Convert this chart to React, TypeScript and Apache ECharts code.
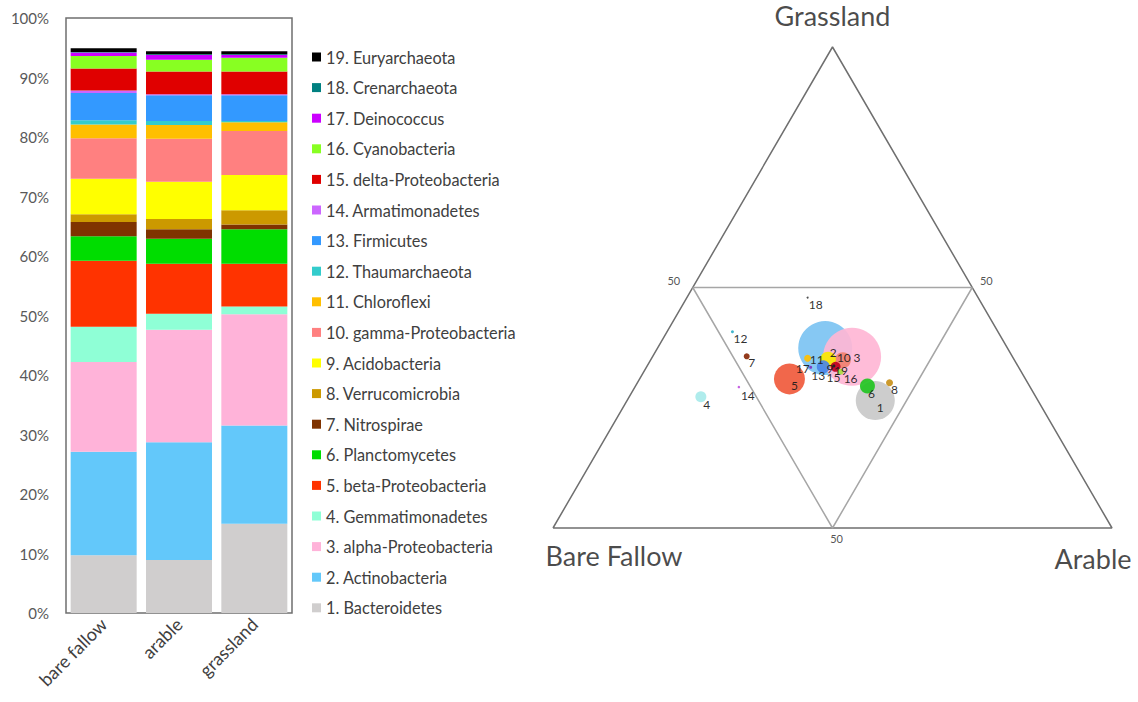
import React, { useEffect, useRef } from "react";
import * as echarts from "echarts";

// ---------- data ----------
const sites = ["bare fallow", "arable", "grassland"];

const phyla = [
  "1. Bacteroidetes",
  "2. Actinobacteria",
  "3. alpha-Proteobacteria",
  "4. Gemmatimonadetes",
  "5. beta-Proteobacteria",
  "6. Planctomycetes",
  "7. Nitrospirae",
  "8. Verrucomicrobia",
  "9. Acidobacteria",
  "10. gamma-Proteobacteria",
  "11. Chloroflexi",
  "12. Thaumarchaeota",
  "13. Firmicutes",
  "14. Armatimonadetes",
  "15. delta-Proteobacteria",
  "16. Cyanobacteria",
  "17. Deinococcus",
  "18. Crenarchaeota",
  "19. Euryarchaeota",
];

// relative abundance (%) per site
const bareFallow = [9.7, 17.4, 15.1, 5.9, 11.1, 4.1, 2.4, 1.3, 6.0, 6.8, 2.3, 0.7, 4.6, 0.4, 3.7, 2.1, 0.6, 0.1, 0.6];
const arable = [8.9, 19.8, 18.9, 2.7, 8.4, 4.2, 1.6, 1.7, 6.3, 7.2, 2.3, 0.7, 4.3, 0.2, 3.8, 2.0, 0.8, 0.1, 0.5];
const grassland = [15.0, 16.5, 18.7, 1.3, 7.2, 5.8, 0.8, 2.4, 5.9, 7.4, 1.5, 0.2, 4.3, 0.2, 3.8, 2.3, 0.5, 0.1, 0.5];

// ternary composition (%) of each phylum: bare fallow / arable / grassland
const ternBare = [29.1, 32.6, 28.7, 59.9, 42.2, 29.0, 47.5, 24.7, 33.3, 30.7, 36.8, 47.5, 34.9, 52.1, 32.7, 32.3, 37.2, 30.5, 32.9];
const ternArable = [44.4, 30.0, 35.7, 12.8, 26.8, 41.5, 16.8, 45.1, 31.7, 34.4, 27.9, 11.7, 31.6, 18.6, 33.8, 35.2, 29.4, 21.6, 33.4];
const ternGrass = [26.5, 37.4, 35.6, 27.3, 31.0, 29.5, 35.7, 30.2, 35.0, 34.9, 35.3, 40.8, 33.5, 29.3, 33.5, 32.5, 33.4, 47.9, 33.7];
// bubble diameters
const bubbleSize = [39, 54, 58, 11, 31, 15, 6, 7, 16, 16, 7, 3, 13, 2.5, 10, 6, 3, 2, 3];

const ternaryTicks = ["50", "50", "50"];
const vertexNames = ["Grassland", "Bare Fallow", "Arable"];

// ---------- styles ----------
const barColors = [
  "#d0cece", "#63c8fa", "#ffb3d9", "#8fffd6", "#ff3300", "#00dd00", "#7f3300", "#cc9900", "#ffff00", "#ff8080",
  "#ffbf00", "#33cccc", "#3399ff", "#cc66ff", "#e00000", "#88ff22", "#cc00ff", "#008080", "#000000",
];
const bubbleColors = [
  "#c9c9c9", "#7cc3f2", "#ffb6d5", "#a8eaea", "#f05a3c", "#22c422", "#8b2a0a", "#c8901a", "#f8e800", "#f08070",
  "#ffc000", "#33b0c8", "#4a86e8", "#c050e0", "#c00020", "#a8e040", "#8030c0", "#404040", "#202020",
];
const labelOffsets: number[][] = [
  [5, 7], [8, 4], [5, 1], [6, 8], [5, 7], [4, 7], [5, 6], [5, 7], [2, 9], [1, -3],
  [9, 1], [8, 7], [-5, 9], [9, 8], [-2, 11], [10, 7], [-8, 1], [8, 7], [7, 5],
];
const drawOrder = [2, 3, 1, 5, 10, 9, 13, 6, 15, 11, 4, 8, 7, 16, 19, 17, 12, 14, 18];

const FONT = "Lato";

function ternaryToXY(bare: number, ar: number, gr: number): number[] {
  const s = bare + ar + gr;
  const a = ar / s;
  const g = gr / s;
  return [a + g / 2, g];
}

export default function App() {
  const ref = useRef<HTMLDivElement>(null);

  useEffect(() => {
    if (!ref.current) return;
    const chart = echarts.init(ref.current, undefined, { renderer: "svg" });

    const siteValues = [bareFallow, arable, grassland];
    const barSeries = phyla.map((name, i) => ({
      name,
      type: "bar",
      stack: "total",
      xAxisIndex: 0,
      yAxisIndex: 0,
      barWidth: 66,
      itemStyle: { color: barColors[i] },
      data: siteValues.map((v) => v[i]),
    }));

    const bubbleData = drawOrder.map((id) => {
      const i = id - 1;
      const [x, y] = ternaryToXY(ternBare[i], ternArable[i], ternGrass[i]);
      return {
        value: [x, y],
        name: String(id),
        symbolSize: bubbleSize[i],
        itemStyle: { color: bubbleColors[i], opacity: 0.92 },
        label: { offset: labelOffsets[i] },
      };
    });

    const outer = [
      ternaryToXY(100, 0, 0),
      ternaryToXY(0, 100, 0),
      ternaryToXY(0, 0, 100),
      ternaryToXY(100, 0, 0),
    ];
    const inner = [
      ternaryToXY(50, 0, 50),
      ternaryToXY(0, 50, 50),
      ternaryToXY(50, 50, 0),
      ternaryToXY(50, 0, 50),
    ];

    const tickPts = [
      { value: ternaryToXY(50, 0, 50), name: ternaryTicks[0], label: { offset: [-19, -7] } },
      { value: ternaryToXY(0, 50, 50), name: ternaryTicks[1], label: { offset: [14, -7] } },
      { value: ternaryToXY(50, 50, 0), name: ternaryTicks[2], label: { offset: [4, 10] } },
    ];
    const vertexPts = [
      { value: ternaryToXY(0, 0, 100), name: vertexNames[0], label: { offset: [0, -32] } },
      { value: ternaryToXY(100, 0, 0), name: vertexNames[1], label: { offset: [61, 27] } },
      { value: ternaryToXY(0, 100, 0), name: vertexNames[2], label: { offset: [-19, 30] } },
    ];

    chart.setOption({
      animation: false,
      backgroundColor: "#ffffff",
      textStyle: { fontFamily: FONT },
      grid: [
        { left: 66, top: 18, width: 226, height: 595, show: true, borderColor: "#6f6f6f", borderWidth: 1.5 },
        { left: 553, top: 47, width: 559, height: 481 },
      ],
      legend: {
        orient: "vertical",
        left: 307,
        top: 44,
        itemWidth: 9,
        itemHeight: 9,
        itemGap: 14.6,
        icon: "rect",
        data: phyla.slice().reverse(),
        textStyle: { fontFamily: FONT, fontSize: 16.3, color: "#404040", lineHeight: 16 },
      },
      xAxis: [
        {
          type: "category",
          gridIndex: 0,
          data: sites,
          axisTick: { show: false },
          axisLine: { show: false },
          axisLabel: { rotate: 45, fontSize: 18, color: "#404040", margin: 8, fontFamily: FONT },
        },
        { type: "value", gridIndex: 1, min: 0, max: 1, show: false },
      ],
      yAxis: [
        {
          type: "value",
          gridIndex: 0,
          min: 0,
          max: 100,
          interval: 10,
          axisLine: { show: false },
          axisTick: { show: false },
          splitLine: { show: false },
          axisLabel: { formatter: "{value}%", fontSize: 15, color: "#595959", margin: 17, fontFamily: FONT },
        },
        { type: "value", gridIndex: 1, min: 0, max: 1, show: false },
      ],
      series: [
        ...barSeries,
        {
          type: "line",
          xAxisIndex: 1,
          yAxisIndex: 1,
          data: outer,
          showSymbol: false,
          symbol: "none",
          clip: false,
          silent: true,
          lineStyle: { color: "#6f6f6f", width: 1.5 },
          z: 1,
        },
        {
          type: "line",
          xAxisIndex: 1,
          yAxisIndex: 1,
          data: inner,
          showSymbol: false,
          symbol: "none",
          clip: false,
          silent: true,
          lineStyle: { color: "#a6a6a6", width: 1.5 },
          z: 1,
        },
        {
          type: "scatter",
          xAxisIndex: 1,
          yAxisIndex: 1,
          data: bubbleData,
          z: 3,
          label: {
            show: true,
            position: "inside",
            formatter: "{b}",
            fontSize: 12,
            color: "#1a1a1a",
            fontFamily: FONT,
          },
        },
        {
          type: "scatter",
          xAxisIndex: 1,
          yAxisIndex: 1,
          data: tickPts,
          symbolSize: 0,
          silent: true,
          label: { show: true, position: "inside", formatter: "{b}", fontSize: 11, color: "#262626", fontFamily: FONT },
        },
        {
          type: "scatter",
          xAxisIndex: 1,
          yAxisIndex: 1,
          data: vertexPts,
          symbolSize: 0,
          silent: true,
          label: { show: true, position: "inside", formatter: "{b}", fontSize: 27, color: "#1a1a1a", fontFamily: FONT },
        },
      ],
    });

    return () => chart.dispose();
  }, []);

  return (
    <div
      ref={ref}
      style={{ position: "fixed", left: 0, top: 0, width: 1138, height: 702, background: "#fff" }}
    />
  );
}
